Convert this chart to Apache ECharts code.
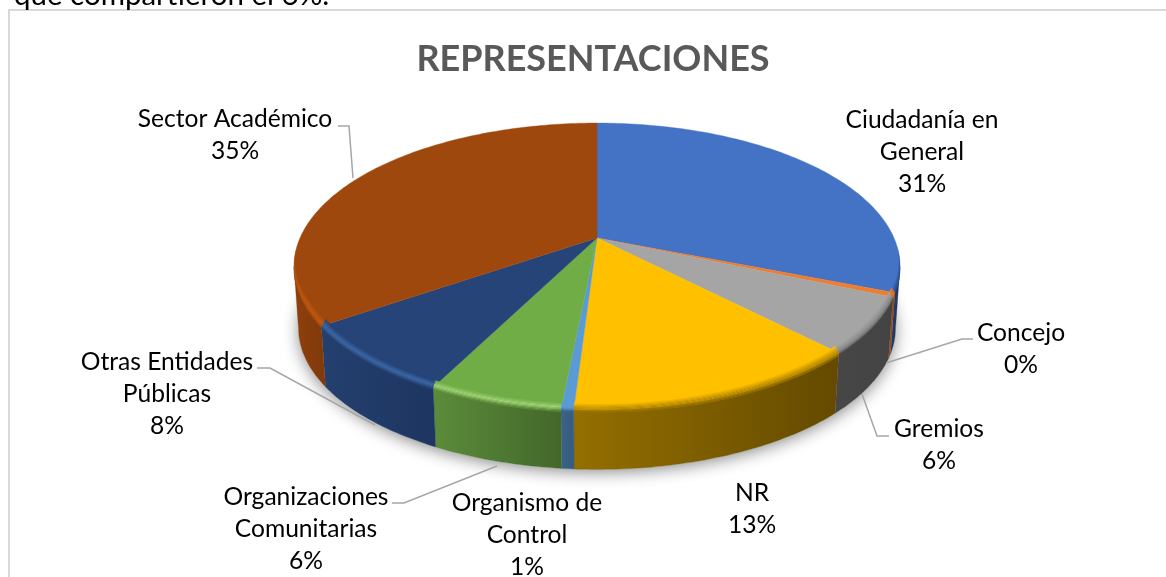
<!DOCTYPE html>
<html><head><meta charset="utf-8">
<style>html,body{margin:0;padding:0;background:#fff}#c{width:1166px;height:577px}</style>
<script src="https://cdn.jsdelivr.net/npm/echarts@6/dist/echarts.min.js"></script>
</head><body><div id="c"></div>
<script>
// Data
const categories = ['Ciudadanía en\nGeneral','Concejo','Gremios','NR','Organismo de\nControl','Organizaciones\nComunitarias','Otras Entidades\nPúblicas','Sector Académico'];
const values = [31.0,0.49,6.21,13.3,0.55,5.95,7.9,34.6];
const chartTitle = 'REPRESENTACIONES';
const aboveText = 'que compartieron el 6%.';

// Style
const faceColors = ['#4472C4','#ED7D31','#A5A5A5','#FFC000','#5B9BD5','#70AD47','#264478','#9E480E'];
const rimColors  = ['#2a4f8f','#e07020','#8a8a8a','#c09000','#5b9bd5','#a2d577','#3f6bab','#c4590f'];
const wallLeft   = ['#1f3864','#a8541c','#474747','#946f00','#3a6387','#5b8c3a','#24406f','#8f3f0c'];
const wallRight  = ['#1f3864','#8a4516','#434343','#644a00','#365c7e','#43672a','#1d3560','#7f390a'];
// Label placement (centre x, centre y) and leader lines
const labelPos = [[922,152],[1021,349],[939,445],[752,509],[527,535],[306,529],[167,394],[235,135]];
const leaders = [null,[[973,339],[962,339],[886,363]],[[889,436],[877,436],[862,394]],null,null,[[392,503],[404,503],[497,466]],[[257,368],[270,368],[375,425]],[[338,126],[349,126],[353,178]]];

// Perspective disc geometry
const cx=597, cy=238, A=297, B=137.8, K=0.1987, DEPTH=62, SHRINK=0.985;
const rad=d=>d*Math.PI/180;
function P(deg,s,dy,dx){const u=Math.sin(rad(deg)),v=-Math.cos(rad(deg)),den=1-K*v;
  return [cx+s*A*u/den+(dx||0)*u, cy+s*B*v/den+dy];}
function arc(a,b,s,dy){const pts=[],n=Math.max(2,Math.ceil(Math.abs(b-a)));
  for(let i=0;i<=n;i++)pts.push(P(a+(b-a)*i/n,s,dy));return pts;}
function lerpHex(c1,c2,t){const p=c=>[1,3,5].map(i=>parseInt(c.substr(i,2),16));const a=p(c1),b=p(c2);
  return 'rgb('+a.map((x,i)=>Math.round(x+(b[i]-x)*t)).join(',')+')';}
const total=values.reduce((a,b)=>a+b,0);
const TH_L=101.5, TH_R=258.5, RIM_EXT=8;
// Bevel band edge: t is the offset from the rim, tapered towards the band's ends
function rimArc(a,b,t){const pts=[],n=Math.max(2,Math.ceil(Math.abs(b-a)));
  for(let i=0;i<=n;i++){const d=a+(b-a)*i/n;
    const inWall=d>=TH_L&&d<=TH_R;
    const w=Math.max(0,Math.min(1,(d-TH_L+RIM_EXT)/24,(TH_R+RIM_EXT-d)/24));
    const o=t>0?(inWall?t:0):t*w;
    pts.push(P(d,1,o,o<0?o*0.7:0));}
  return pts;}

function renderItem(params,api){
  const i=params.dataIndex, val=api.value(0);
  let before=0; for(let j=0;j<i;j++)before+=values[j];
  const a0=before/total*360, a1=(before+val)/total*360;
  const kids=[];
  if(i===0){
    kids.push({type:'polygon',z2:0,shape:{points:arc(0,360,SHRINK,DEPTH)},
      style:{fill:'#fff',shadowColor:'rgba(0,0,0,0.45)',shadowBlur:16,shadowOffsetY:3,shadowOffsetX:0}});
  }
  const w0=Math.max(a0,TH_L), w1=Math.min(a1,TH_R);
  if(w1>w0){
    const pts=arc(w0,w1,1,0).concat(arc(w1,w0,SHRINK,DEPTH));
    kids.push({type:'polygon',z2:1+i*0.01,shape:{points:pts},
      style:{fill:new echarts.graphic.LinearGradient(0,0,1,0,[{offset:0,color:wallLeft[i]},{offset:1,color:wallRight[i]}]),
             stroke:wallRight[i],lineWidth:0.3}});
  }
  kids.push({type:'polygon',z2:3+i*0.01,shape:{points:[[cx,cy]].concat(arc(a0,a1,1,0))},
    style:{fill:faceColors[i],stroke:faceColors[i],lineWidth:0.4}});
  const r0=Math.max(a0,TH_L-RIM_EXT), r1=Math.min(a1,TH_R+RIM_EXT);
  if(r1>r0){
    const N=9, top=-7, bot=3;
    for(let n=0;n<N;n++){
      const t0=top+(bot-top)*n/N, t1=top+(bot-top)*(n+1)/N, t=n/(N-1);
      const col=t<0.5?lerpHex(faceColors[i],rimColors[i],t*2):lerpHex(rimColors[i],wallLeft[i],(t-0.5)*2);
      // strips lying on the wall only exist where the wall is visible
      const s0=t0>=0?w0:r0, s1=t0>=0?w1:r1;
      if(s1<=s0) continue;
      const pts=rimArc(s0,s1,t0).concat(rimArc(s1,s0,t1));
      kids.push({type:'polygon',z2:4+i*0.01,shape:{points:pts},style:{fill:col}});
    }
  }
  if(leaders[i]) kids.push({type:'polyline',z2:6,shape:{points:leaders[i]},style:{fill:'none',stroke:'#a6a6a6',lineWidth:1.5}});
  kids.push({type:'text',z2:7,style:{text:categories[i]+'\n'+Math.round(val/total*100)+'%',x:labelPos[i][0],y:labelPos[i][1],
    fill:'#000',fontFamily:'Lato',fontSize:24.6,lineHeight:32,align:'center',verticalAlign:'middle'}});
  return {type:'group',children:kids};
}

const chart=echarts.init(document.getElementById('c'),null,{renderer:'canvas'});
chart.setOption({
  animation:false,backgroundColor:'#fff',
  title:{text:chartTitle,left:588,top:36,textAlign:'center',textStyle:{fontFamily:'Lato',fontWeight:'bold',fontSize:36,color:'#595959'}},
  graphic:[
    {type:'rect',silent:true,shape:{x:9,y:10,width:1300,height:700},style:{fill:'none',stroke:'#d9d9d9',lineWidth:2}},
    {type:'text',silent:true,style:{text:aboveText,x:14,y:-20,fill:'#000',fontFamily:'Lato',fontSize:29.5}}
  ],
  series:[{type:'custom',coordinateSystem:'none',silent:true,renderItem,data:values.map(v=>[v])}]
});
</script></body></html>
